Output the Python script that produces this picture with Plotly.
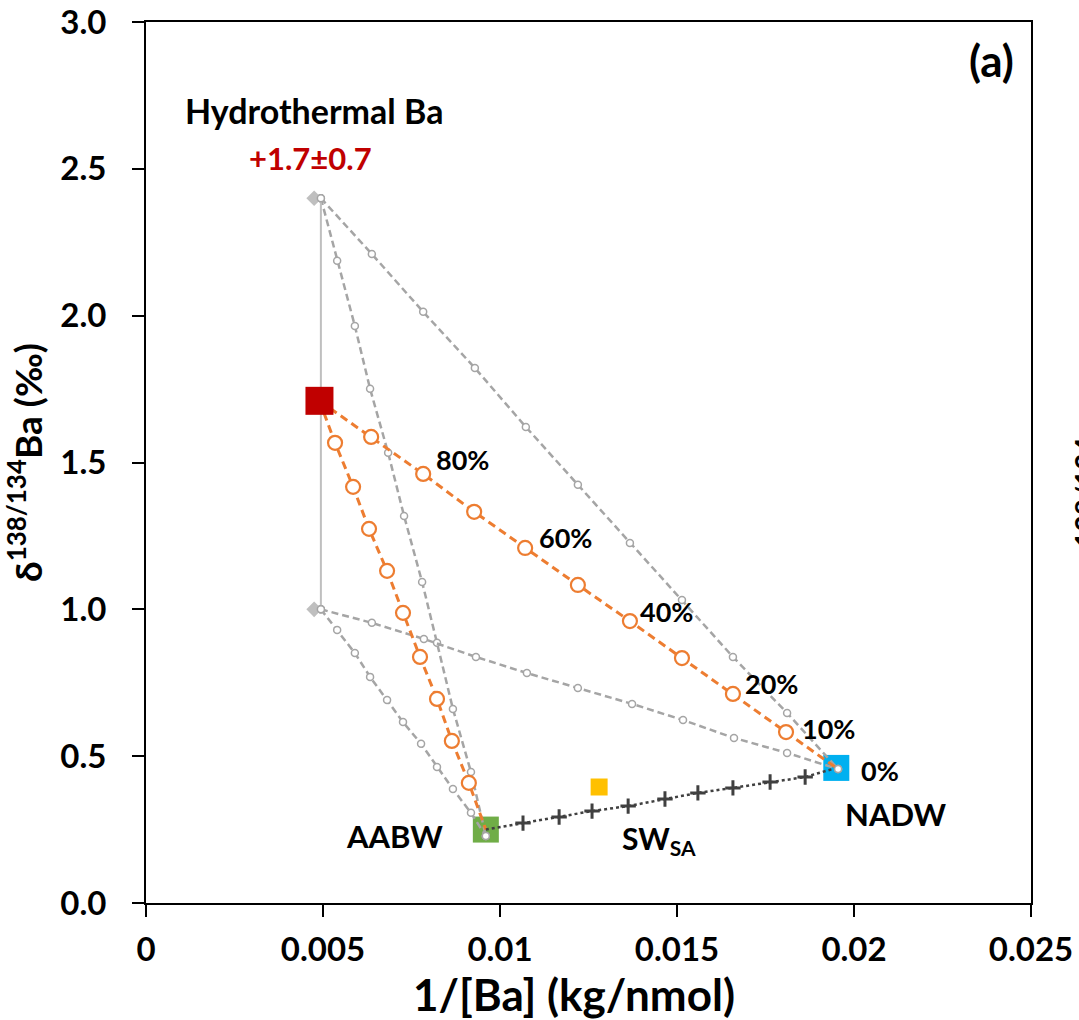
import plotly.graph_objects as go

# ---- data ----
hydro_x, hydro_y = 0.0049, 1.71          # Hydrothermal Ba end member
hydro_range_x = 0.00494                   # x of the +-0.7 range line
hydro_diamond_x = 0.00475
hydro_hi, hydro_lo = 2.40, 1.00
aabw_x, aabw_y = 0.0096, 0.25
nadw_x, nadw_y = 0.0195, 0.46
aabw_end_x, aabw_end_y = 0.0096, 0.228    # end points of grey mixing lines
nadw_end_x, nadw_end_y = 0.01955, 0.456
swsa_x, swsa_y = 0.0128, 0.395

# orange mixing: hydrothermal -> NADW (90%..10%)
orange_nadw_x = [0.00636, 0.00783, 0.00927, 0.01071, 0.01220, 0.01367, 0.01514, 0.01658, 0.01808]
orange_nadw_y = [1.587, 1.461, 1.332, 1.209, 1.083, 0.960, 0.834, 0.712, 0.582]
# orange mixing: hydrothermal -> AABW
orange_aabw_x = [0.00534, 0.00585, 0.00630, 0.00681, 0.00726, 0.00774, 0.00822, 0.00864, 0.00912]
orange_aabw_y = [1.567, 1.417, 1.274, 1.131, 0.988, 0.838, 0.695, 0.552, 0.409]

# grey mixing lines from the +-0.7 limits
grey_top_nadw_x = [0.00638, 0.00783, 0.00929, 0.01073, 0.01220, 0.01367, 0.01514, 0.01658, 0.01811]
grey_top_nadw_y = [2.210, 2.013, 1.822, 1.621, 1.424, 1.226, 1.032, 0.838, 0.647]
grey_top_aabw_x = [0.00540, 0.00590, 0.00633, 0.00684, 0.00729, 0.00780, 0.00822, 0.00867, 0.00918]
grey_top_aabw_y = [2.187, 1.965, 1.751, 1.533, 1.318, 1.093, 0.886, 0.661, 0.446]
grey_bot_nadw_x = [0.00638, 0.00785, 0.00932, 0.01076, 0.01220, 0.01373, 0.01517, 0.01661, 0.01811]
grey_bot_nadw_y = [0.954, 0.899, 0.838, 0.783, 0.732, 0.678, 0.623, 0.562, 0.511]
grey_bot_aabw_x = [0.00540, 0.00590, 0.00633, 0.00681, 0.00726, 0.00777, 0.00822, 0.00867, 0.00918]
grey_bot_aabw_y = [0.930, 0.851, 0.770, 0.691, 0.616, 0.542, 0.463, 0.388, 0.307]

# conservative mixing AABW -> NADW
cons_x = [0.01065, 0.01167, 0.01260, 0.01362, 0.01466, 0.01559, 0.01658, 0.01763, 0.01862]
cons_y = [0.272, 0.293, 0.313, 0.330, 0.354, 0.375, 0.392, 0.412, 0.429]

pct_labels = ["80%", "60%", "40%", "20%", "10%", "0%"]
pct_x = [0.00893, 0.01186, 0.01469, 0.01766, 0.01929, 0.02073]
pct_y = [1.509, 1.243, 0.991, 0.746, 0.593, 0.450]

x_ticks = [0, 0.005, 0.01, 0.015, 0.02, 0.025]
x_ticktext = ["0", "0.005", "0.01", "0.015", "0.02", "0.025"]
y_ticks = [0.0, 0.5, 1.0, 1.5, 2.0, 2.5, 3.0]

# ---- styles ----
FONT = "Lato"
ORANGE = "#ED7D31"
GREY = "#A5A5A5"
LGREY = "#BFBFBF"
DARK = "#404040"

fig = go.Figure()

# end-member squares under the grey lines
fig.add_trace(go.Scatter(x=[aabw_x], y=[aabw_y], mode="markers",
                         marker=dict(symbol="square", size=26, color="#70AD47"), showlegend=False))
fig.add_trace(go.Scatter(x=[nadw_x], y=[nadw_y], mode="markers",
                         marker=dict(symbol="square", size=26, color="#00B0F0"), showlegend=False))

# grey dashed mixing lines
for top_y, mx, my, ex, ey in [
    (hydro_hi, grey_top_nadw_x, grey_top_nadw_y, nadw_end_x, nadw_end_y),
    (hydro_hi, grey_top_aabw_x, grey_top_aabw_y, aabw_end_x, aabw_end_y),
    (hydro_lo, grey_bot_nadw_x, grey_bot_nadw_y, nadw_end_x, nadw_end_y),
    (hydro_lo, grey_bot_aabw_x, grey_bot_aabw_y, aabw_end_x, aabw_end_y),
]:
    fig.add_trace(go.Scatter(
        x=[hydro_range_x] + mx + [ex], y=[top_y] + my + [ey],
        mode="lines+markers",
        line=dict(color=GREY, width=2.5, dash="7px,4px"),
        marker=dict(symbol="circle", size=7, color="white", line=dict(color=GREY, width=1.5)),
        showlegend=False))

# vertical +-0.7 range
fig.add_trace(go.Scatter(x=[hydro_range_x, hydro_range_x], y=[hydro_hi, hydro_lo], mode="lines",
                         line=dict(color=LGREY, width=2), showlegend=False))
fig.add_trace(go.Scatter(x=[hydro_diamond_x, hydro_diamond_x], y=[hydro_hi, hydro_lo], mode="markers",
                         marker=dict(symbol="diamond", size=12, color=LGREY), showlegend=False))
fig.add_trace(go.Scatter(x=[hydro_range_x, hydro_range_x], y=[hydro_hi, hydro_lo], mode="markers",
                         marker=dict(symbol="circle", size=7, color="white", line=dict(color=GREY, width=1.5)),
                         showlegend=False))

# orange mixing lines
for mx, my, ex, ey in [(orange_nadw_x, orange_nadw_y, nadw_x, nadw_y),
                       (orange_aabw_x, orange_aabw_y, aabw_x, aabw_y)]:
    fig.add_trace(go.Scatter(x=[hydro_x] + mx + [ex], y=[hydro_y] + my + [ey], mode="lines",
                             line=dict(color=ORANGE, width=3, dash="8px,5px"), showlegend=False))
    fig.add_trace(go.Scatter(x=mx, y=my, mode="markers",
                             marker=dict(symbol="circle", size=14, color="white",
                                         line=dict(color=ORANGE, width=2.2)), showlegend=False))

# conservative mixing line
fig.add_trace(go.Scatter(x=[aabw_x] + cons_x + [nadw_x], y=[aabw_y] + cons_y + [nadw_y], mode="lines",
                         line=dict(color=DARK, width=2.5, dash="dot"), showlegend=False))
fig.add_trace(go.Scatter(x=cons_x, y=cons_y, mode="markers",
                         marker=dict(symbol="cross-thin", size=11, line=dict(color=DARK, width=3)),
                         showlegend=False))

# grey end circles on squares
fig.add_trace(go.Scatter(x=[aabw_end_x, nadw_end_x], y=[aabw_end_y, nadw_end_y], mode="markers",
                         marker=dict(symbol="circle", size=7, color="white", line=dict(color=GREY, width=1.5)),
                         showlegend=False))

# hydrothermal & SW_SA squares
fig.add_trace(go.Scatter(x=[hydro_x], y=[hydro_y], mode="markers",
                         marker=dict(symbol="square", size=28, color="#C00000"), showlegend=False))
fig.add_trace(go.Scatter(x=[swsa_x], y=[swsa_y], mode="markers",
                         marker=dict(symbol="square", size=17, color="#FFC000"), showlegend=False))

def txt(x, y, s, size=27, color="black", **kw):
    fig.add_annotation(x=x, y=y, text=s, showarrow=False, xref="x", yref="y",
                       font=dict(family=FONT, size=size, color=color, weight="bold"), **kw)

txt(0.00475, 2.70, "Hydrothermal Ba", size=34)
txt(0.00465, 2.537, "+1.7±0.7", size=31, color="#C00000")
txt(0.02387, 2.87, "(a)", size=44)
for s, px, py in zip(pct_labels, pct_x, pct_y):
    txt(px, py, s, size=27)
txt(0.00703, 0.228, "AABW", size=31)
txt(0.01450, 0.215, "SW<sub>SA</sub>", size=30)
txt(0.02119, 0.303, "NADW", size=31)

# x-axis title placed as annotation (slightly left of centre, as in the reference)
fig.add_annotation(x=0.4836, y=-0.103, xref="paper", yref="paper", showarrow=False,
                   xanchor="center", yanchor="middle", text="1/[Ba] (kg/nmol)",
                   font=dict(family=FONT, size=44, color="black", weight="bold"))

# neighbouring panel's axis title, cut by the page edge
fig.add_annotation(x=1.106, y=0.524, xref="paper", yref="paper", showarrow=False, textangle=-90,
                   text="δ<sup>138/134</sup>Ba (‰)",
                   font=dict(family=FONT, size=40, color="black", weight="bold"))

axis_font = dict(family=FONT, size=33, color="black", weight="bold")
fig.update_xaxes(range=[0, 0.025], tickvals=x_ticks, ticktext=x_ticktext, automargin=False,
                 showgrid=False, zeroline=False, showline=True, linecolor="black", linewidth=2,
                 mirror=True, ticks="outside", ticklen=12, tickwidth=1.5, tickcolor="black",
                 tickfont=axis_font, ticklabelstandoff=4)
fig.update_yaxes(range=[0, 3], tickvals=y_ticks, tickformat=".1f", automargin=False,
                 showgrid=False, zeroline=False, showline=True, linecolor="black", linewidth=2,
                 mirror=True, ticks="outside", ticklen=12, tickwidth=1.5, tickcolor="black",
                 tickfont=axis_font, ticklabelstandoff=19,
                 title=dict(text="δ<sup>138/134</sup>Ba (‰)",
                            font=dict(family=FONT, size=37, color="black", weight="bold"), standoff=8))

fig.update_layout(width=1079, height=1020, margin=dict(l=146, r=48, t=22, b=117, autoexpand=False),
                  plot_bgcolor="white", paper_bgcolor="white",
                  font=dict(family=FONT, weight="bold"))

fig.write_html("out.html", config={"displayModeBar": False},
               post_script="document.body.style.margin='0';document.body.style.overflow='hidden';")
